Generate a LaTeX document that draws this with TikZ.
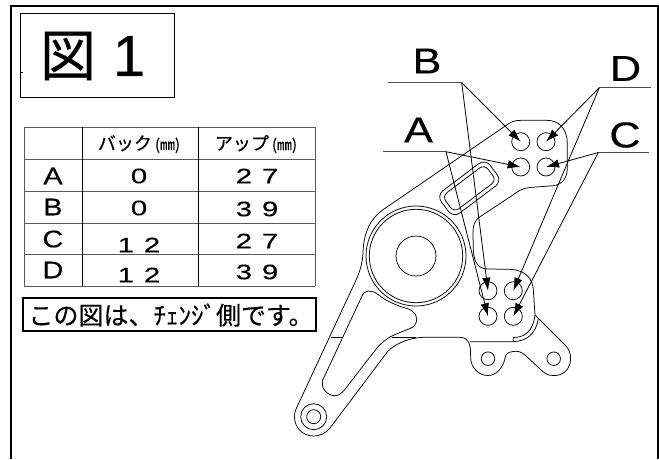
\documentclass[tikz,border=0pt]{standalone}
\usepackage{fontspec}
\setmainfont[FakeBold=0.35]{Liberation Sans}
\newfontfamily\cjk[FakeBold=0.35]{Noto Sans CJK JP}
\usetikzlibrary{arrows.meta}
\tikzset{
  part/.style={draw=black,line width=0.75pt,line join=round},
  frameline/.style={draw=black,line width=2pt},
  gridh/.style={draw=black!65,line width=1pt},
  gridv/.style={draw=black,line width=1pt},
  boxline/.style={draw=black,line width=1.1pt},
  titleline/.style={draw=black,line width=0.8pt},
  leader/.style={draw=black,line width=0.8pt},
  shelf/.style={draw=black!70,line width=1pt},
  arrowline/.style={leader,-{Latex[length=13pt,width=8.5pt]}},
  hole/.style={circle,draw=black,line width=0.75pt,minimum size=18pt,inner sep=0pt},
  smallhole/.style={circle,draw=black,line width=0.75pt,minimum size=13.5pt,inner sep=0pt},
  biglabel/.style={font=\fontsize{36}{36}\selectfont,inner sep=0pt},
  cell/.style={font=\fontsize{24}{24}\selectfont,inner sep=0pt},
  num/.style={font=\fontsize{21}{21}\selectfont,inner sep=0pt},
  headcell/.style={font=\cjk\fontsize{18}{18}\selectfont,inner sep=0pt},
}
\newcommand{\widen}[1]{\scalebox{1.2}[1]{#1}}
\newcommand{\widedigits}[1]{\scalebox{1.4}[1]{#1}}
\begin{document}
\begin{tikzpicture}[x=1pt,y=-1pt]
\useasboundingbox (0,0) rectangle (659,459);
\fill[white] (0,0) rectangle (659,459);
% frame
\draw[frameline] (11,459) -- (11,5.5) -- (657.5,5.5) -- (657.5,459);
% title
\node[titleline,draw,minimum width=154pt,minimum height=84pt,inner sep=0pt] (titlebox) at (97,55) {};
\draw[line width=0.6pt] (20,72) -- (23,72);
\node[font=\cjk\fontsize{56}{56}\selectfont,inner sep=0pt] (zu) at (68,56) {図};
\node[font=\fontsize{58}{58}\selectfont,inner sep=0pt] (one) at (129,56) {1};
% table
\foreach \yy in {127,159,191,223,254,286} \draw[gridh] (24,\yy) -- (315,\yy);
\draw[gridh] (24,127) -- (24,286);
\draw[gridh] (315,127) -- (315,286);
\draw[gridv] (82,127) -- (82,286);
\draw[gridv] (198,127) -- (198,286);
\node[headcell] (h1) at (139,144) {バック\,\fontsize{15}{15}\selectfont(㎜)};
\node[headcell] (h2) at (256,144) {アップ\,\fontsize{15}{15}\selectfont(㎜)};
\node[cell] (ra) at (53,176) {\widen{A}};
\node[cell] (rb) at (53,207) {\widen{B}};
\node[cell] (rc) at (53,239) {\widen{C}};
\node[cell] (rd) at (53,270) {\widen{D}};
\node[num] (a1) at (139,176) {\widedigits{0}};
\node[num] (b1) at (139,208) {\widedigits{0}};
\node[num] (c1) at (139,245) {\widedigits{1\,\,2}};
\node[num] (d1) at (139,275) {\widedigits{1\,\,2}};
\node[num] (a2) at (257,176) {\widedigits{2\,\,7}};
\node[num] (b2) at (257,209) {\widedigits{3\,\,9}};
\node[num] (c2) at (257,241) {\widedigits{2\,\,7}};
\node[num] (d2) at (257,272) {\widedigits{3\,\,9}};
% note
\node[boxline,draw,minimum width=293pt,minimum height=33pt,inner sep=0pt] (notebox) at (169.5,314.5) {};
\node[font=\cjk\fontsize{25}{25}\selectfont,inner sep=0pt] (note) at (171,315) {この図は、ﾁｪﾝｼﾞ側です。};
% part outline
\path[part] (363,253) .. controls (363.5,232) and (371,218) .. (383.3,209.5)
  -- (506.7,125) .. controls (512,121) and (516,120.3) .. (522,120.3)
  -- (546.7,120.3) .. controls (560,120.3) and (567.3,130) .. (567.3,143.3)
  -- (567.3,168.3) .. controls (567.3,178) and (562,185) .. (553,185.7)
  -- (530,187.5) .. controls (522,188.5) and (518,191) .. (513,195)
  -- (480,216.7) .. controls (474,221) and (473,226) .. (473,233)
  -- (473.3,250) .. controls (474,262) and (478,269) .. (488,269)
  -- (510,269.3) .. controls (525,270) and (533.3,278) .. (533.5,292)
  -- (535,315)
  -- (538.3,318.3) -- (566.7,346.7)
  .. controls (574,355) and (572,376) .. (553.3,375.5)
  .. controls (547,375.5) and (545,373) .. (543,371.7)
  -- (525,355) .. controls (520,351) and (517,351) .. (513,351.5)
  .. controls (507,352) and (505.5,355) .. (505,358.3)
  .. controls (503,368) and (496,375.5) .. (488,375.5)
  .. controls (478,375.5) and (471,367) .. (470.7,358.3)
  .. controls (470.5,352) and (470.5,349) .. (470,346.7)
  .. controls (469,340) and (465,337.3) .. (460,337.3)
  -- (423.3,337.3) .. controls (410,338) and (398,342) .. (388,351)
  -- (330,428) .. controls (325,434) and (319,436) .. (313.7,436)
  .. controls (302,436) and (294.5,427) .. (294.5,416.7)
  .. controls (294.5,413) and (295,411) .. (296.5,408)
  -- (357,278) .. controls (361,268) and (362.5,262) .. (363,253) -- cycle;
% big bearing
\node[circle,draw,line width=0.75pt,fill=white,minimum size=100pt,inner sep=0pt] (ring2) at (416,256) {};
\node[circle,draw,line width=0.75pt,minimum size=93.4pt,inner sep=0pt] (ring1) at (416,256) {};
\node[circle,draw,line width=0.75pt,minimum size=40pt,inner sep=0pt] (bore) at (416,256) {};
% window
\path[part] (368.3,291) .. controls (372,291) and (375,292) .. (378,294.5)
  .. controls (385,300) and (393,304) .. (402,307)
  .. controls (410,309) and (416.7,312) .. (416.7,319)
  .. controls (416.7,324) and (414,327) .. (410,328.5)
  -- (395,334.5) .. controls (388,337.5) and (382,342) .. (376.7,348.3)
  -- (348.3,385) .. controls (344,391) and (340,395.7) .. (335,395.7)
  .. controls (327,395.7) and (321,388) .. (322.3,381)
  -- (361.7,296.7) .. controls (363,293) and (365,291) .. (368.3,291) -- cycle;
% centre details
\path[part] (330.5,337.3) -- (341.7,337.3);
\path[part] (391.7,337.3) -- (416,337.3);
\path[part] (470,341.7) -- (513.3,341.7) -- (513.3,337.5)
  .. controls (525,337.5) and (533,331) .. (535,315);
\path[part] (513.3,341.7) .. controls (527,341) and (536,334) .. (538.3,318.3);
% slot
\node[part,draw,rotate=37,minimum width=61pt,minimum height=28pt,inner sep=0pt,rounded corners=8pt] (slotout) at (469.3,188.3) {};
\node[part,draw,rotate=37,minimum width=53pt,minimum height=20pt,inner sep=0pt,rounded corners=6pt] (slotin) at (469.3,188.3) {};
% lower pivot
\node[circle,draw,line width=0.75pt,minimum size=26pt,inner sep=0pt] (pivotout) at (313.7,416.7) {};
\node[circle,draw,line width=0.75pt,minimum size=14pt,inner sep=0pt] (pivotin) at (313.7,416.7) {};
% holes
\node[hole] (hua) at (520.7,167) {};
\node[hole] (hub) at (520.7,141.7) {};
\node[hole] (huc) at (546,167) {};
\node[hole] (hud) at (546,141.7) {};
\node[hole] (hla) at (488,316.3) {};
\node[hole] (hlb) at (488,290.7) {};
\node[hole] (hlc) at (513.3,316.3) {};
\node[hole] (hld) at (513.3,290.7) {};
\node[smallhole] (m1) at (488,358.7) {};
\node[smallhole] (m2) at (553.7,358.7) {};
% labels
\node[biglabel] (lb) at (427,61) {\widen{B}};
\node[biglabel] (la) at (418.5,130) {\widen{A}};
\node[biglabel] (ld) at (625.5,68.5) {\widen{D}};
\node[biglabel] (lc) at (625,135) {\widen{C}};
% leaders
\coordinate (bs) at (388.3,82.7); \coordinate (be) at (461.7,82.7);
\coordinate (as) at (383.3,151.7); \coordinate (ae) at (446,151.7);
\coordinate (de) at (650.7,87.7); \coordinate (ds) at (599.3,87.7);
\coordinate (ce) at (649,152.5); \coordinate (cs) at (598.3,152.5);
\draw[shelf] (bs) -- (be);
\draw[shelf] (as) -- (ae);
\draw[shelf] (ds) -- (de);
\draw[shelf] (cs) -- (ce);
\draw[arrowline] (be) -- (hub.center);
\draw[arrowline] (be) -- (hlb.center);
\draw[arrowline] (ae) -- (hua.center);
\draw[arrowline] (ae) -- (hla.center);
\draw[arrowline] (ds) -- (hud.center);
\draw[arrowline] (ds) -- (hld.center);
\draw[arrowline] (cs) -- (huc.center);
\draw[arrowline] (cs) -- (hlc.center);
\end{tikzpicture}
\end{document}
